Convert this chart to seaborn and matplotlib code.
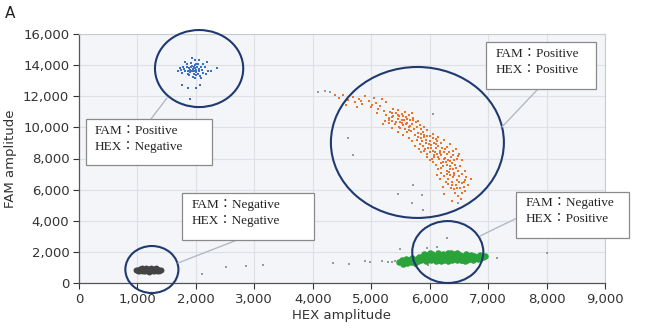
import matplotlib
matplotlib.use('Agg')
import matplotlib.pyplot as plt
from matplotlib.patches import Ellipse, Rectangle
from matplotlib.ticker import FuncFormatter
import numpy as np
import pandas as pd
import seaborn as sns

# droplet amplitudes (HEX on x, FAM on y)
blue_x = [1950, 1980, 2000, 1920, 1970, 2020, 1900, 1940, 2050, 1880, 1990, 2010, 1860, 1930,
          2060, 2080, 1840, 1960, 2040, 1800, 1820, 2100, 1910, 2000, 1780, 2120, 1870, 2070,
          1750, 1720, 1700, 2150, 2170, 1990, 1940, 2050, 2130, 1850, 2200, 1760, 1980, 2090,
          2360, 1760, 1900, 1860, 2000, 2070, 2250, 2190, 1810, 1950, 2030, 1900, 1970, 2010, 1890]
blue_y = [13750, 13800, 13700, 13850, 13650, 13900, 13700, 13600, 13750, 13800, 14000, 13550, 13650, 13950,
          13600, 13850, 13900, 13450, 14100, 13750, 13600, 13700, 14150, 13350, 13850, 13500, 13450, 13300,
          13700, 13800, 13650, 13900, 13400, 14350, 14450, 14300, 14100, 14050, 13600, 13500, 13150, 13200,
          13800, 12700, 11800, 12500, 12500, 12700, 13600, 14200, 14200, 13250, 13450, 13550, 13900, 14050, 13350]

orange_x = [4380, 4450, 4520, 4600, 4680, 4720, 4790, 4850, 4900, 4960, 4990, 5050, 5080, 5120, 4750,
            4560, 5180, 5150, 5220, 5260,
            5250, 5300, 5320, 5350, 5380, 5400, 5420, 5450, 5470, 5480, 5500, 5520, 5540, 5560, 5580,
            5600, 5620, 5640, 5660, 5680, 5700, 5720, 5740, 5760, 5300, 5360, 5430, 5490, 5550, 5610,
            5670, 5780, 5800, 5350, 5460, 5520, 5590, 5650, 5710, 5240,
            5750, 5780, 5800, 5830, 5850, 5870, 5890, 5900, 5920, 5940, 5960, 5980, 6000, 6010, 6030,
            6050, 6060, 6080, 6100, 6110, 6130, 6150, 6160, 6180, 6200, 6210, 6230, 6250, 6270, 6290,
            6300, 6320, 6340, 6360, 6380, 6400, 5820, 5880, 5950, 6040, 6120, 6190, 6260, 6330, 6420,
            5930, 6020, 6090, 6140, 6240, 5860, 5990, 6070, 6170, 6280, 6350, 6440, 6460, 5910, 6000,
            6150, 6200, 6250, 6300, 6320, 6350, 6380, 6400, 6420, 6450, 6470, 6500, 6520, 6550, 6580,
            6600, 6280, 6230, 6360, 6430, 6480, 6530, 6250, 6600, 6650, 6390, 6550, 6310, 6180, 6120, 6700,
            5100, 5200, 5350, 5450, 5550, 5650, 5700, 5750, 5850, 5950, 6050, 6100, 6200, 5900, 5850,
            5950, 6050, 6150, 6250, 6350, 6450, 6500, 6550, 6520, 6480, 6600, 6550, 6620, 5650, 5580,
            5450, 5380, 5700, 5800, 5830, 5900, 6000, 6100, 6200, 6300, 6400, 6400, 6350, 6450, 6300,
            6380, 6420, 6500, 6580, 6460, 5020, 4820, 5310, 5530, 5620, 6070, 6230, 6330, 6480, 6410]
orange_y = [12050, 11900, 12100, 11750, 11950, 11600, 11850, 11500, 12000, 11700, 11300, 11900, 11550, 11150, 11300,
            11450, 11800, 11400, 11050, 11600,
            10800, 10600, 11000, 10400, 10750, 10200, 10900, 10550, 10050, 10700, 10350, 10850, 10150, 10500, 9900,
            10650, 10300, 10000, 10450, 9750, 10200, 10600, 9900, 10350, 10250, 10950, 10350, 9950, 10750, 9700,
            10100, 10050, 9650, 10650, 10800, 10450, 10200, 9850, 10450, 10400,
            9500, 9200, 9400, 8950, 9600, 9100, 8800, 9350, 8600, 9000, 9450, 8700, 9150, 8400, 8850,
            9300, 8500, 8100, 8950, 8650, 8300, 8800, 7950, 8500, 8200, 8700, 7800, 8400, 8050, 7600,
            8300, 7900, 7500, 8100, 7700, 7350, 8600, 9700, 8300, 8000, 9100, 7700, 8600, 8400, 7900,
            9200, 8700, 8400, 8100, 8000, 9300, 8950, 9000, 8350, 7750, 7300, 7600, 8000, 8500, 7900,
            7300, 7050, 6900, 7200, 6700, 6950, 6500, 6800, 7100, 6300, 6650, 6900, 6100, 6450, 6200,
            5900, 6500, 6200, 6100, 5800, 5600, 5400, 5700, 6600, 6300, 5300, 5800, 6350, 6700, 6950, 6700,
            10900, 10200, 9950, 9700, 9500, 9300, 9100, 8800, 8400, 8100, 7800, 7600, 7400, 10000, 9900,
            9800, 9600, 9400, 9200, 8900, 8600, 8300, 7900, 7500, 7200, 7200, 7000, 6800, 10800, 11000,
            11100, 11200, 10900, 10400, 10150, 9500, 9450, 9250, 9000, 8750, 8500, 8200, 7850, 7400, 7000,
            6300, 6050, 6500, 6500, 6100, 11450, 11700, 10500, 10250, 10550, 8250, 7550, 7150, 8150, 6950]

black_x = [980, 1000, 1020, 1040, 1060, 1080, 1100, 1120, 1140, 1160, 1180, 1200, 1220, 1240, 1260,
           1280, 1300, 1320, 1340, 1360, 1380, 1400, 1010, 1050, 1090, 1130, 1170, 1210, 1250, 1290,
           1330, 1370, 1070, 1150, 1230, 1310, 1190, 1110, 1270, 1350]
black_y = [820, 850, 800, 880, 830, 790, 860, 900, 820, 850, 780, 880, 840, 810, 870,
           830, 900, 850, 800, 860, 830, 850, 780, 900, 820, 760, 920, 800, 930, 760,
           880, 800, 950, 960, 950, 940, 720, 740, 760, 820]

green_x = [5480, 5520, 5550, 5580, 5600, 5620, 5650, 5680, 5700, 5720, 5750, 5780, 5800,
           5820, 5850, 5880, 5900, 5930, 5950, 5970, 6000, 6020, 6040, 6060, 6080, 6100, 6120, 6140,
           6160, 6180, 6200, 6220, 6240, 6260, 6280, 6300, 6320, 6340, 6360, 6380, 6400, 6420, 6440,
           6460, 6480, 6500, 6520, 6540, 6560, 6580, 6600, 6620, 6640, 6660, 6680, 6700, 6720, 6740,
           6760, 6780, 6800, 6830, 6860, 6890, 6920, 6950, 5860, 5960, 6050, 6150, 6250, 6350, 6450,
           6550, 6650, 6750, 6010, 6190, 6310, 6470, 6610, 5910, 6090, 6230, 6390, 6530, 6690, 6850]
green_y = [1350, 1450, 1250, 1400, 1550, 1300, 1500, 1350, 1600, 1450, 1300, 1550, 1400,
           1650, 1450, 1750, 1550, 1400, 1800, 1600, 1700, 1450, 1850, 1550, 1750, 1400, 1650, 1900,
           1500, 1750, 1600, 1850, 1450, 1700, 1550, 1800, 1400, 1650, 1900, 1500, 1750, 1600, 1850,
           1450, 1700, 1550, 1800, 1650, 1450, 1750, 1600, 1850, 1500, 1700, 1550, 1800, 1650, 1500,
           1750, 1600, 1700, 1550, 1800, 1650, 1700, 1750, 1600, 1500, 1650, 1600, 1550, 1600, 1650,
           1600, 1650, 1650, 1900, 1400, 1950, 1950, 1400, 1850, 1600, 1700, 1700, 1500, 1700, 1650]

grey_x = [2105, 2515, 2860, 3150, 4350, 4620, 4894, 4980, 5185, 5290, 5356, 5407, 8010, 6300,
          5490, 5950, 6125, 5970, 5460, 5700, 5870, 5720, 5890, 6490, 4090, 4210, 4295, 4600, 4690, 6060, 7150]
grey_y = [580, 1030, 1090, 1160, 1290, 1220, 1414, 1350, 1414, 1350, 1350, 1414, 1930, 2890,
          2185, 2250, 2310, 1160, 5720, 5140, 5650, 6300, 4690, 5140, 12275, 12340, 12275, 9320, 8225, 10860, 1600]

x_ticks = [0, 1000, 2000, 3000, 4000, 5000, 6000, 7000, 8000, 9000]
y_ticks = [0, 2000, 4000, 6000, 8000, 10000, 12000, 14000, 16000]

label_lines = {
    'pn': ['FAM：Positive', 'HEX：Negative'],
    'pp': ['FAM：Positive', 'HEX：Positive'],
    'nn': ['FAM：Negative', 'HEX：Negative'],
    'np': ['FAM：Negative', 'HEX：Positive'],
}

# build one long frame for seaborn
parts = []
for name, xs, ys in [('grey', grey_x, grey_y), ('black', black_x, black_y), ('green', green_x, green_y),
                     ('orange', orange_x, orange_y), ('blue', blue_x, blue_y)]:
    parts.append(pd.DataFrame({'HEX': xs, 'FAM': ys, 'group': name}))
df = pd.concat(parts, ignore_index=True)

colors = {'grey': '#9a9a9a', 'black': '#444444', 'green': '#2aa33a', 'orange': '#e8752a', 'blue': '#3b6fc2'}
sizes = {'grey': 3, 'black': 18, 'green': 22, 'orange': 4, 'blue': 4}
markers = {'grey': 's', 'black': 'o', 'green': 'o', 'orange': 's', 'blue': 's'}

sns.set_theme(style='whitegrid')
plt.rcParams['font.family'] = ['DejaVu Sans']

fig = plt.figure(figsize=(6.6, 3.31), dpi=100)
ax = fig.add_axes([79 / 660, 48 / 331, 526 / 660, 249 / 331])
ax.set_facecolor('#f3f5f8')

for name in ['grey', 'black', 'green', 'orange', 'blue']:
    sub = df[df['group'] == name]
    sns.scatterplot(data=sub, x='HEX', y='FAM', color=colors[name], s=sizes[name], marker=markers[name],
                    linewidth=0, ax=ax, legend=False, zorder=3)

ax.set_xlim(0, 9000)
ax.set_ylim(0, 16000)
ax.set_xticks(x_ticks)
ax.set_yticks(y_ticks)
fmt = FuncFormatter(lambda v, p: f'{int(v):,}')
ax.xaxis.set_major_formatter(fmt)
ax.yaxis.set_major_formatter(fmt)
ax.grid(True, color='#dde1e6', linewidth=0.8)
ax.tick_params(axis='both', labelsize=9.5, colors='#333333', length=4, width=0.8, direction='out',
               bottom=True, left=True, pad=3)
for side in ['left', 'bottom']:
    ax.spines[side].set_color('#555555')
    ax.spines[side].set_linewidth(0.9)
for side in ['top', 'right']:
    ax.spines[side].set_color('#c8ccd2')
    ax.spines[side].set_linewidth(0.8)
ax.set_xlabel('HEX amplitude', fontsize=9.5, color='#333333', labelpad=2)
ax.set_ylabel('FAM amplitude', fontsize=9.5, color='#333333', labelpad=4)

# cluster ellipses
ell_color = '#1f3a70'
for cx, cy, w, h in [(2055, 13780, 1510, 4950), (5790, 9030, 2960, 9700),
                     (1247, 867, 908, 3020), (6310, 1990, 1216, 3980)]:
    ax.add_patch(Ellipse((cx, cy), w, h, fill=False, ec=ell_color, lw=1.5, zorder=4, clip_on=False))

# label boxes + leader lines
boxes = [('pn', 120, 7584, 2276, 10540, 274, 9769, 8740, (1232, 10540), (1506, 11890)),
         ('pp', 6964, 12468, 8847, 15488, 7136, 14717, 13689, (7854, 12468), (7238, 10026)),
         ('nn', 1762, 2763, 4021, 5784, 1934, 5013, 3985, (2704, 2763), (1694, 1285)),
         ('np', 7478, 2892, 9411, 5848, 7649, 5141, 4113, (7495, 4177), (6862, 3020))]
for key, x0, y0, x1, y1, tx, ty1, ty2, p0, p1 in boxes:
    ax.plot([p0[0], p1[0]], [p0[1], p1[1]], color='#b4bac2', lw=1, zorder=4, clip_on=False)
    ax.add_patch(Rectangle((x0, y0), x1 - x0, y1 - y0, fc='white', ec='#8a8a8a', lw=0.9,
                           zorder=5, clip_on=False))
    for ty, line in zip([ty1, ty2], label_lines[key]):
        ax.text(tx, ty, line, fontsize=9.5, color='#222222', va='center', ha='left', zorder=6,
                family=['Liberation Serif', 'Noto Sans CJK JP'])

fig.text(5 / 660, 1 - 14 / 331, 'A', fontsize=11, color='#222222', va='center', ha='left')

fig.savefig('out.png', dpi=100)
